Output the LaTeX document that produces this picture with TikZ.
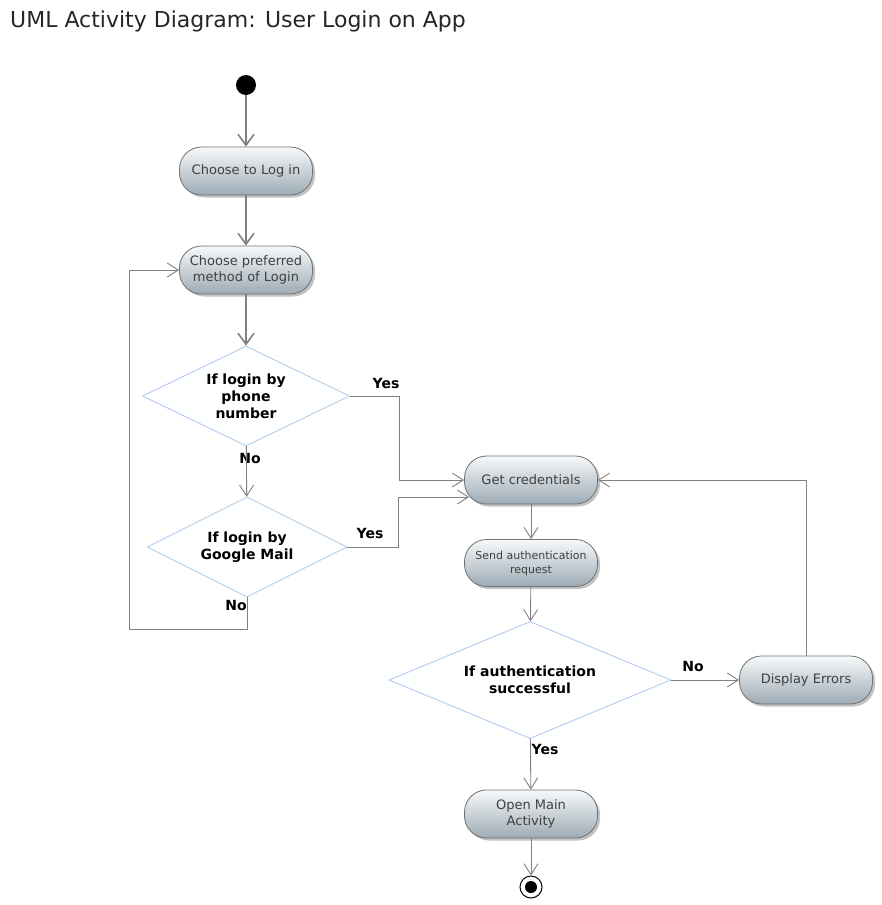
\documentclass[tikz,border=0pt]{standalone}
\usepackage{fontspec}
\setmainfont{DejaVu Sans}
\usetikzlibrary{shapes.geometric,arrows.meta,shadows}
\definecolor{pilltop}{HTML}{F7F9FA}
\definecolor{pillbot}{HTML}{9DABB5}
\definecolor{pilledge}{HTML}{707070}
\definecolor{flowgrey}{HTML}{808080}
\definecolor{decedge}{HTML}{A9C8F0}
\begin{document}
\begin{tikzpicture}[x=1pt,y=-1pt,
  pill/.style={draw=pilledge, line width=0.8pt, rounded corners=22pt, top color=pilltop, bottom color=pillbot,
    minimum width=133pt, minimum height=48pt, align=center, text=black!75, font=\fontsize{13}{16}\selectfont,
    drop shadow={shadow xshift=2.5pt, shadow yshift=-2.5pt, opacity=0.4, fill=black!60}},
  decision/.style={diamond, draw=decedge, line width=0.8pt, fill=white, inner sep=0pt, aspect=2, align=center,
    font=\bfseries\fontsize{14}{17}\selectfont},
  guard/.style={font=\bfseries\fontsize{14}{16}\selectfont, inner sep=0pt},
  flow/.style={draw=flowgrey, line width=1.6pt, -{Straight Barb[length=11pt,width=16pt]}},
  thinflow/.style={draw=flowgrey, line width=0.9pt, -{Straight Barb[length=11pt,width=14pt]}},
]
  \useasboundingbox (0,0) rectangle (881,905);
  \node[anchor=base west, inner sep=0pt, font=\fontsize{22}{26}\selectfont, text=black!85] (title) at (10,27) {UML Activity Diagram: User Login on App};

  % activity nodes
  \node[circle, fill=black, inner sep=0pt, minimum size=20pt] (start) at (246,85) {};
  \node[pill] (choose) at (246,171) {Choose to Log in};
  \node[pill] (method) at (246,270) {Choose preferred\\method of Login};
  \node[decision, minimum width=207pt, minimum height=100pt] (phone) at (246,396) {If login by\\phone\\number};
  \node[decision, minimum width=200pt, minimum height=100pt] (gmail) at (247,547) {If login by\\Google Mail};
  \node[pill] (cred) at (531,480) {Get credentials};
  \node[pill, font=\fontsize{11}{14}\selectfont, minimum height=47pt] (send) at (531,563) {Send authentication\\request};
  \node[decision, minimum width=282pt, minimum height=117pt] (auth) at (530,680) {If authentication\\successful};
  \node[pill] (errors) at (806,680) {Display Errors};
  \node[pill] (mainact) at (531,814) {Open Main\\Activity};
  \node[circle, draw=black, line width=1pt, fill=white, inner sep=0pt, minimum size=22pt,
    path picture={\fill[black] (path picture bounding box.center) circle (6pt);}] (stop) at (531,887) {};

  % guards
  \node[guard] (phoneyes) at (386,383) {Yes};
  \node[guard] (phoneno) at (250,458) {No};
  \node[guard] (gmailyes) at (370,533) {Yes};
  \node[guard] (gmailno) at (236,605) {No};
  \node[guard] (authno) at (693,666) {No};
  \node[guard] (authyes) at (545,749) {Yes};

  % connectors
  \draw[flow] (start) -- (choose);
  \draw[flow] (choose) -- (method);
  \draw[flow] (method) -- (phone);
  \draw[thinflow] (phone.east) -- ++(50,0) |- (cred.west);
  \draw[thinflow] (phone) -- (gmail);
  \draw[thinflow] (gmail.east) -- ++(51,0) |- ([xshift=5pt,yshift=-17pt]cred.west);
  \draw[thinflow] (gmail.south) -- ++(0,32) -| ([xshift=-50pt]method.west) -- (method.west);
  \draw[thinflow] (cred) -- (send);
  \draw[thinflow] (send) -- (auth);
  \draw[thinflow] (auth) -- (errors);
  \draw[thinflow] (errors.north) |- (cred.east);
  \draw[thinflow] (auth) -- (mainact);
  \draw[thinflow] (mainact) -- (stop);
\end{tikzpicture}
\end{document}
